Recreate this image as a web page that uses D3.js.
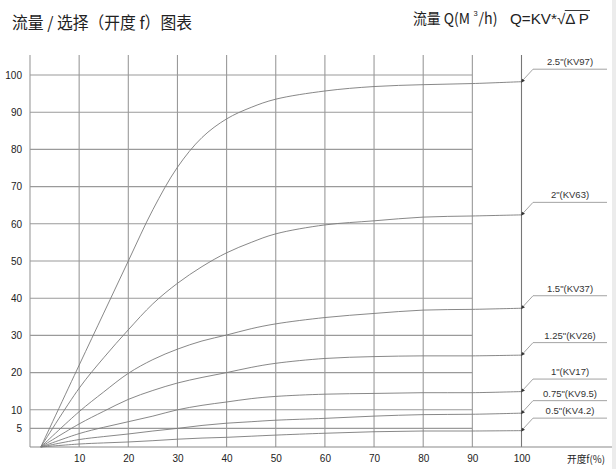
<!DOCTYPE html>
<html><head><meta charset="utf-8">
<script src="https://cdn.jsdelivr.net/npm/d3@7"></script>
<style>
html,body{margin:0;padding:0;background:#fff;}
svg{display:block;font-family:"Liberation Sans",Arial,sans-serif;}
</style></head>
<body><div id="chart"></div>
<script>
// ---- data ----
const opening = [2.2, 10, 15, 20, 25, 30, 35, 40, 45, 50, 60, 70, 80, 90, 100];
const seriesNames = ['2.5"(KV97)', '2"(KV63)', '1.5"(KV37)', '1.25"(KV26)', '1"(KV17)', '0.75"(KV9.5)', '0.5"(KV4.2)'];
const flow25  = [0, 22.0, 36.0, 50.0, 63.8, 75.2, 83.2, 88.2, 91.3, 93.5, 95.7, 96.9, 97.4, 97.7, 98.2];
const flow20  = [0, 15.8, 24.0, 31.5, 38.5, 44.0, 48.5, 52.2, 55.0, 57.3, 59.7, 60.8, 61.8, 62.1, 62.4];
const flow15  = [0, 9.5, 14.8, 19.8, 23.5, 26.3, 28.5, 30.1, 31.8, 33.1, 34.8, 35.9, 36.8, 37.0, 37.3];
const flow125 = [0, 6.2, 9.6, 12.8, 15.2, 17.2, 18.7, 20.0, 21.4, 22.5, 23.8, 24.3, 24.5, 24.5, 24.7];
const flow10  = [0, 3.6, 5.3, 6.8, 8.3, 10.0, 11.2, 12.1, 13.0, 13.6, 14.2, 14.4, 14.6, 14.6, 14.9];
const flow075 = [0, 2.0, 2.8, 3.5, 4.3, 5.0, 5.8, 6.4, 6.8, 7.2, 7.7, 8.3, 8.7, 8.8, 9.1];
const flow05  = [0, 0.8, 1.1, 1.35, 1.7, 2.1, 2.4, 2.6, 2.9, 3.2, 3.7, 4.1, 4.3, 4.3, 4.4];
const seriesValues = [flow25, flow20, flow15, flow125, flow10, flow075, flow05];
const yTickValues = [5, 10, 20, 30, 40, 50, 60, 70, 80, 90, 100];
const xTickValues = [10, 20, 30, 40, 50, 60, 70, 80, 90, 100];
const xGridValues = [0, 10, 20, 30, 40, 50, 60, 70, 80, 90, 100];

// ---- drawing ----
const W = 616, H = 469;
const svg = d3.select('#chart').append('svg').attr('width', W).attr('height', H);
const x = d3.scaleLinear().domain([0, 100]).range([30, 521.5]);
const y = d3.scaleLinear().domain([0, 100]).range([447, 75]);
const gridTop = 55;
const gridColor = '#9a9a9a';

// right edge strip
svg.append('rect').attr('x', 612).attr('y', 0).attr('width', 4).attr('height', H).attr('fill', '#ececec');

// horizontal grid (to 90%)
svg.append('g').selectAll('line').data(yTickValues).join('line')
  .attr('x1', x(0)).attr('x2', x(90))
  .attr('y1', d => y(d)).attr('y2', d => y(d))
  .attr('stroke', gridColor).attr('stroke-width', 1.1);

// vertical grid
svg.append('g').selectAll('line').data(xGridValues).join('line')
  .attr('x1', d => x(d)).attr('x2', d => x(d))
  .attr('y1', gridTop).attr('y2', y(0))
  .attr('stroke', d => d === 100 ? '#777' : gridColor).attr('stroke-width', 1.1);

// base line
svg.append('line').attr('x1', x(0)).attr('x2', 612).attr('y1', y(0)).attr('y2', y(0))
  .attr('stroke', '#8a8a8a').attr('stroke-width', 1.1);

// axes labels
const yAxis = svg.append('g').attr('transform', `translate(${x(0)},0)`)
  .call(d3.axisLeft(y).tickValues(yTickValues).tickSize(0).tickPadding(8));
const xAxis = svg.append('g').attr('transform', `translate(0,${y(0)})`)
  .call(d3.axisBottom(x).tickValues(xTickValues).tickSize(0).tickPadding(8));
[yAxis, xAxis].forEach(g => {
  g.select('.domain').remove();
  g.selectAll('text').attr('font-size', 10).attr('fill', '#222')
    .attr('font-family', '"Liberation Sans", Arial, sans-serif');
});

// curves
const line = d3.line().x(d => x(d[0])).y(d => y(d[1])).curve(d3.curveCatmullRom.alpha(0.5));
const curves = svg.append('g');
seriesValues.forEach(vals => {
  curves.append('path').datum(opening.map((o, i) => [o, vals[i]]))
    .attr('d', line).attr('fill', 'none').attr('stroke', '#7a7a7a').attr('stroke-width', 0.9);
});

// leaders and labels
const lab = svg.append('g');
seriesValues.forEach((vals, i) => {
  const endV = vals[vals.length - 1];
  const x0 = x(100), y0 = y(endV);
  const y1 = y0 - 12.5;
  lab.append('path').attr('d', `M${x0},${y0}L533,${y1}L607,${y1}`)
    .attr('fill', 'none').attr('stroke', '#999').attr('stroke-width', 0.9);
  lab.append('path').attr('d', `M${x0 - 0.5},${y0 + 1}l1,-4l3,2z`).attr('fill', '#333');
  lab.append('text').attr('x', 570).attr('y', y1 - 4).attr('text-anchor', 'middle')
    .attr('font-size', 9.5).attr('fill', '#333').text(seriesNames[i]);
});

// x-axis title
svg.append('text').attr('x', 567).attr('y', 463).attr('font-size', 10).attr('fill', '#222')
  .attr('textLength', 38).attr('lengthAdjust', 'spacingAndGlyphs')
  .attr('font-family', '"Noto Sans CJK SC", sans-serif').text('开度f(%)');

// titles
svg.append('text').attr('x', 12).attr('y', 29).attr('font-size', 16.5).attr('fill', '#222')
  .attr('textLength', 180).attr('lengthAdjust', 'spacingAndGlyphs')
  .attr('font-family', '"Noto Sans CJK SC", sans-serif').text('流量 / 选择（开度 f）图表');

const cjk = '"Noto Sans CJK SC", sans-serif';
svg.append('text').attr('x', 413).attr('y', 24).attr('font-size', 15).attr('fill', '#222')
  .attr('textLength', 57).attr('lengthAdjust', 'spacingAndGlyphs')
  .attr('font-family', cjk).text('流量 Q(M');
svg.append('text').attr('x', 473.5).attr('y', 16).attr('font-size', 7.5).attr('fill', '#222').text('3');
svg.append('text').attr('x', 478.5).attr('y', 24).attr('font-size', 15).attr('fill', '#222')
  .attr('textLength', 19).attr('lengthAdjust', 'spacingAndGlyphs')
  .attr('font-family', cjk).text('/h)');
const formula = svg.append('text').attr('x', 510).attr('y', 24).attr('font-size', 14.5).attr('fill', '#222')
  .attr('textLength', 79).attr('lengthAdjust', 'spacingAndGlyphs').text('Q=KV*√Δ P');
let ovStart = 548;
try { ovStart = formula.node().getStartPositionOfChar(6).x; } catch (e) {}
svg.append('line').attr('x1', ovStart - 0.5).attr('x2', 590).attr('y1', 10.5).attr('y2', 10.5)
  .attr('stroke', '#222').attr('stroke-width', 0.9);
</script></body></html>
